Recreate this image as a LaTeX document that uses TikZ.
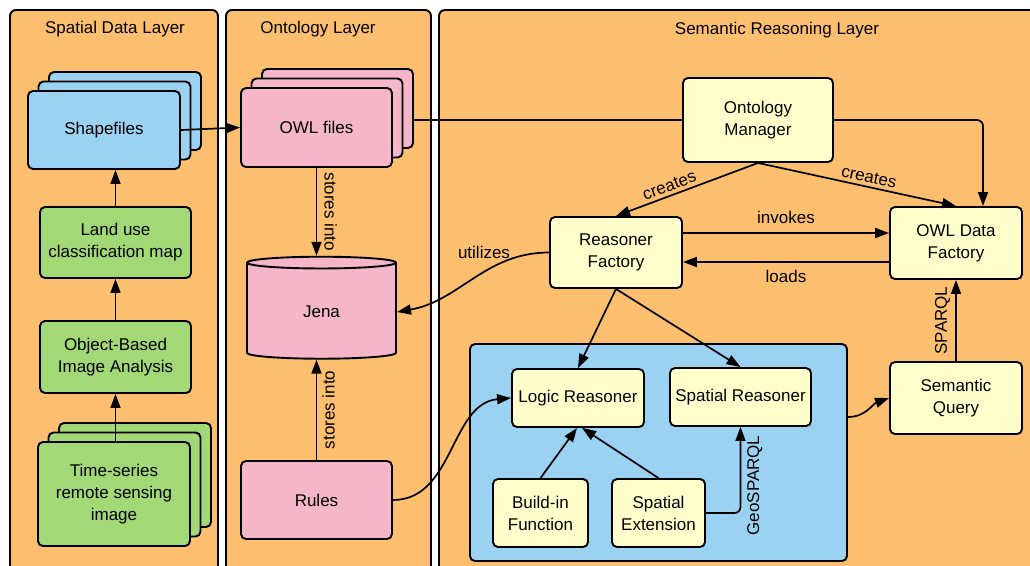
\documentclass[tikz,border=0pt]{standalone}
\usepackage{fontspec}
\setmainfont{Liberation Sans}
\usetikzlibrary{arrows.meta,shapes.geometric,shadows}

\definecolor{layerorange}{RGB}{252,191,112}
\definecolor{fileblue}{RGB}{155,210,242}
\definecolor{filepink}{RGB}{244,182,200}
\definecolor{stepgreen}{RGB}{163,216,119}
\definecolor{partyellow}{RGB}{255,255,204}

\begin{document}
\begin{tikzpicture}[x=1pt, y=-1pt,
  font=\fontsize{17}{22}\selectfont,
  box/.style={draw, line width=1.9pt, rounded corners=5pt, align=center, inner sep=2pt},
  stack/.style={box, fill=#1, double copy shadow={shadow xshift=10.5pt, shadow yshift=9.5pt,
      fill=#1, draw=black, line width=1.9pt}},
  layer/.style={draw, line width=1.9pt, rounded corners=6pt, fill=layerorange},
  arr/.style={-{Triangle[length=14pt,width=10pt]}, line width=1.7pt},
  link/.style={line width=1.7pt}]
  \clip (0,0) rectangle (1030,565);
  \fill[white] (0,0) rectangle (1030,565);

  % Layers
  \draw[layer] (10,10) rectangle (218,590);
  \draw[layer] (226,10) rectangle (431,590);
  \draw[layer] (439,10) rectangle (1050,590);
  \node (spatiallayer) at (115,29) {Spatial Data Layer};
  \node (ontolayer) at (318,29) {Ontology Layer};
  \node (semlayer) at (777,30) {Semantic Reasoning Layer};

  % Spatial data
  \node[stack=fileblue, minimum width=152pt, minimum height=78pt] (shp) at (104,130) {Shapefiles};
  \node[box, fill=stepgreen, minimum width=151pt, minimum height=71pt] (land) at (115.5,242.5) {Land use\\classification map};
  \node[box, fill=stepgreen, minimum width=151pt, minimum height=72pt] (oba) at (115.5,357) {Object-Based\\Image Analysis};
  \node[stack=stepgreen, minimum width=152pt, minimum height=104pt] (ts) at (114,494) {Time-series\\remote sensing\\image};

  % Ontology
  \node[stack=filepink, minimum width=151pt, minimum height=79pt] (owl) at (316.5,127.5) {OWL files};
  \node[draw, line width=1.9pt, fill=filepink, cylinder, shape border rotate=90, aspect=0.27,
    minimum width=149pt, minimum height=102pt] (jena) at (321.5,312) {Jena};
  \node[box, fill=filepink, minimum width=151pt, minimum height=78pt] (rules) at (316.5,500) {Rules};

  % Semantic reasoning
  \node[box, fill=partyellow, minimum width=150pt, minimum height=84pt] (om) at (758,120) {Ontology\\Manager};
  \node[box, fill=partyellow, minimum width=132pt, minimum height=71pt] (rf) at (616,252.5) {Reasoner\\Factory};
  \node[box, fill=partyellow, minimum width=132pt, minimum height=72pt] (odf) at (956,243) {OWL Data\\Factory};
  \node[box, fill=fileblue, minimum width=377pt, minimum height=217pt] (reasoners) at (658.5,452.5) {};
  \node[box, fill=partyellow, minimum width=132pt, minimum height=58pt] (lr) at (578,398) {Logic Reasoner};
  \node[box, fill=partyellow, minimum width=141pt, minimum height=58pt] (sr) at (740.5,397) {Spatial Reasoner};
  \node[box, fill=partyellow, minimum width=95pt, minimum height=68pt] (bf) at (540.5,513) {Build-in\\Function};
  \node[box, fill=partyellow, minimum width=93pt, minimum height=68pt] (se) at (658.5,513) {Spatial\\Extension};
  \node[box, fill=partyellow, minimum width=132pt, minimum height=72pt] (sq) at (956,398) {Semantic\\Query};

  % Spatial data flow
  \draw[arr] (land.north) -- (land.north |- shp.south);
  \draw[arr] (oba.north) -- (land.south);
  \draw[arr] (ts.north -| oba.south) -- (oba.south);
  \draw[arr] (shp.east) -- (owl.west);

  % Ontology flow
  \draw[arr] (owl.south) -- (owl.south |- jena.north)
    node[midway, rotate=-90, anchor=south, inner sep=7pt] {stores into};
  \draw[arr] (rules.north) -- (rules.north |- jena.south)
    node[midway, rotate=90, anchor=north, inner sep=5pt] {stores into};
  \draw[link] ([xshift=21pt]owl.east |- om.west) -- (om.west);
  \draw[arr, rounded corners=6pt] (om.east) -| ([xshift=27pt]odf.north);

  % Reasoning flow
  \draw[arr] (om.south) -- (rf.north) node[pos=0.6, sloped, above] {creates};
  \draw[arr] (om.south) -- (odf.north) node[pos=0.55, sloped, above] {creates};
  \draw[arr] ([yshift=19.5pt]rf.east) -- ([yshift=19.5pt]rf.east -| odf.west)
    node[midway, above=5pt] {invokes};
  \draw[arr] ([yshift=-9.5pt]rf.east -| odf.west) -- ([yshift=-9.5pt]rf.east)
    node[midway, below=4pt] {loads};
  \draw[arr] (rf.west) to[out=180, in=10] (jena.east);
  \node (utilizes) at (484,252) {utilizes};
  \draw[arr] (rf.south) -- (lr.north);
  \draw[arr] (rf.south) -- (sr.north);
  \draw[arr] (bf.north) -- ([xshift=-1pt]lr.south);
  \draw[arr] (se.north) -- ([xshift=4pt]lr.south);
  \draw[arr, rounded corners=6pt] (se.east) -| (sr.south)
    node[pos=0.66, rotate=90, anchor=north, inner sep=6pt] {GeoSPARQL};
  \draw[arr] (rules.east) to[out=0, in=185] (lr.west);
  \draw[arr] ([yshift=35.5pt]reasoners.east) to[out=0, in=200] (sq.west);
  \draw[arr] (sq.north) -- (odf.south)
    node[midway, rotate=90, anchor=south, inner sep=5pt] {SPARQL};
\end{tikzpicture}
\end{document}
